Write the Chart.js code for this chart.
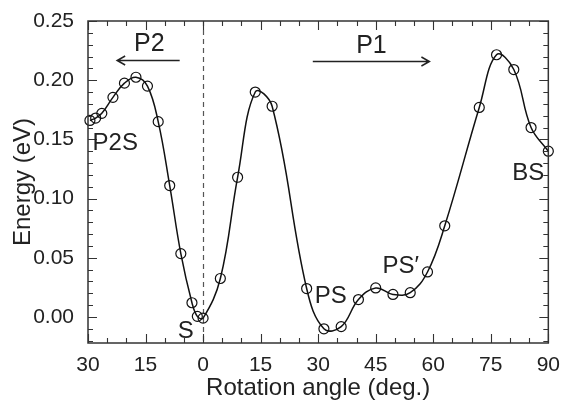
<!DOCTYPE html>
<html>
<head>
<meta charset="utf-8">
<script src="https://cdn.jsdelivr.net/npm/chart.js@4"></script>
<style>
  html, body { margin: 0; padding: 0; background: #fff; }
  #wrap { width: 562px; height: 403px; }
</style>
</head>
<body>
<div id="wrap"><canvas id="grafico" width="562" height="403"></canvas></div>
<script>
// Datos: ángulo de rotación (grados, P2 negativo) y energía (eV)
var angulos = [-29.5, -28, -26.4, -23.5, -20.5, -17.5, -14.5, -11.7, -8.7, -5.8, -2.9, -1.5, 0,
               4.5, 9, 13.6, 18, 27, 31.5, 36, 40.5, 45, 49.5, 54, 58.5, 63, 72, 76.5, 81, 85.5, 90];
var energias = [0.166, 0.168, 0.172, 0.1855, 0.1975, 0.2025, 0.195, 0.165, 0.111, 0.0535, 0.012, 0.0005, -0.001,
                0.0325, 0.118, 0.19, 0.178, 0.024, -0.0100, -0.0082, 0.0147, 0.0245, 0.019, 0.0205, 0.038, 0.077,
                0.177, 0.2215, 0.209, 0.16, 0.14];
var ticksX = [-30, -15, 0, 15, 30, 45, 60, 75, 90];
var ticksY = [0, 0.05, 0.10, 0.15, 0.20, 0.25];

// Etiquetas de estados y flechas de dirección
var etiquetas = [
  { texto: 'P2S', x: -28.8, y: 0.1411 },
  { texto: 'S', x: -6.6, y: -0.0177 },
  { texto: 'PS', x: 29.1, y: 0.0116 },
  { texto: 'PS\u2032', x: 46.8, y: 0.0369 },
  { texto: 'BS', x: 80.6, y: 0.1157 },
  { texto: 'P2', x: -14, y: 0.2247 },
  { texto: 'P1', x: 43.9, y: 0.2228 }
];
var flechas = [
  { desde: -6.1, hasta: -22.4, y: 0.2171 },
  { desde: 28.6, hasta: 59.0, y: 0.2166 }
];

var FUENTE = "'Liberation Sans', Arial, sans-serif";
var TINTA = '#222';

var puntos = angulos.map(function(a, i) { return { x: a, y: energias[i] }; });

// Marco, marcas internas, línea discontinua en 0 y anotaciones
var decoraciones = {
  id: 'decoraciones',
  beforeDatasetsDraw: function(chart) {
    var ctx = chart.ctx, ca = chart.chartArea;
    var sx = chart.scales.x;
    ctx.save();
    ctx.strokeStyle = '#555';
    ctx.lineWidth = 1.2;
    ctx.setLineDash([5, 4]);
    var x0 = Math.round(sx.getPixelForValue(0)) + 0.5;
    ctx.beginPath();
    ctx.moveTo(x0, ca.top);
    ctx.lineTo(x0, ca.bottom);
    ctx.stroke();
    ctx.restore();
  },
  afterDraw: function(chart) {
    var ctx = chart.ctx, ca = chart.chartArea;
    var sx = chart.scales.x, sy = chart.scales.y;
    ctx.save();
    ctx.strokeStyle = '#333';
    ctx.lineWidth = 1.5;
    ctx.strokeRect(ca.left, ca.top, ca.right - ca.left, ca.bottom - ca.top);

    ctx.lineWidth = 1.1;
    ctx.beginPath();
    var v, p, len;
    for (v = -30; v <= 90; v += 5) {
      p = Math.round(sx.getPixelForValue(v)) + 0.5;
      len = (v % 15 === 0) ? 9 : 5;
      ctx.moveTo(p, ca.bottom); ctx.lineTo(p, ca.bottom - len);
      ctx.moveTo(p, ca.top); ctx.lineTo(p, ca.top + len);
    }
    for (var k = -2; k <= 25; k++) {
      v = k / 100;
      p = Math.round(sy.getPixelForValue(v)) + 0.5;
      len = (k % 5 === 0) ? 9 : 5;
      ctx.moveTo(ca.left, p); ctx.lineTo(ca.left + len, p);
      ctx.moveTo(ca.right, p); ctx.lineTo(ca.right - len, p);
    }
    ctx.stroke();

    ctx.fillStyle = TINTA;
    ctx.textBaseline = 'alphabetic';
    etiquetas.forEach(function(e) {
      var px = sx.getPixelForValue(e.x);
      var py = sy.getPixelForValue(e.y);
      if (e.texto === 'P2' || e.texto === 'P1') {
        ctx.textAlign = 'center';
        ctx.font = '25px ' + FUENTE;
      } else {
        ctx.textAlign = 'left';
        ctx.font = '24px ' + FUENTE;
      }
      ctx.fillText(e.texto, px, py);
    });

    ctx.strokeStyle = TINTA;
    ctx.lineWidth = 1.5;
    flechas.forEach(function(f) {
      var a = sx.getPixelForValue(f.desde), b = sx.getPixelForValue(f.hasta);
      var y = Math.round(sy.getPixelForValue(f.y)) + 0.5;
      var dir = b > a ? 1 : -1;
      ctx.beginPath();
      ctx.moveTo(a, y); ctx.lineTo(b, y);
      ctx.moveTo(b - dir * 8, y - 4.5); ctx.lineTo(b, y); ctx.lineTo(b - dir * 8, y + 4.5);
      ctx.stroke();
    });
    ctx.restore();
  }
};

var grafico = new Chart(document.getElementById('grafico'), {
  type: 'line',
  data: {
    datasets: [{
      data: puntos,
      borderColor: '#111',
      borderWidth: 1.5,
      tension: 0.4,
      pointRadius: 5,
      pointBorderWidth: 1.2,
      pointBorderColor: '#111',
      pointBackgroundColor: 'rgba(0,0,0,0)',
      clip: false
    }]
  },
  options: {
    responsive: false,
    animation: false,
    events: [],
    layout: { autoPadding: false, padding: { left: 0, top: 21, right: 13, bottom: 0 } },
    plugins: { legend: { display: false }, tooltip: { enabled: false } },
    scales: {
      x: {
        type: 'linear',
        min: -30, max: 90,
        afterFit: function(s) { s.height = 60; },
        afterBuildTicks: function(s) { s.ticks = ticksX.map(function(v) { return { value: v }; }); },
        grid: { display: false },
        border: { display: false },
        ticks: {
          color: TINTA,
          padding: 2,
          font: { family: FUENTE, size: 21 },
          maxRotation: 0,
          callback: function(v) { return String(Math.abs(v)); }
        },
        title: {
          display: true,
          text: 'Rotation angle (deg.)',
          color: TINTA,
          font: { family: FUENTE, size: 24 },
          padding: { top: 0, bottom: 0 }
        }
      },
      y: {
        min: -0.022, max: 0.25,
        afterFit: function(s) { s.width = 88; },
        afterBuildTicks: function(s) { s.ticks = ticksY.map(function(v) { return { value: v }; }); },
        grid: { display: false },
        border: { display: false },
        ticks: {
          color: TINTA,
          padding: 6,
          font: { family: FUENTE, size: 21 },
          callback: function(v) { return v.toFixed(2); }
        },
        title: {
          display: true,
          text: 'Energy (eV)',
          color: TINTA,
          font: { family: FUENTE, size: 24 },
          padding: { top: 9, bottom: 0 }
        }
      }
    }
  },
  plugins: [decoraciones]
});
</script>
</body>
</html>
